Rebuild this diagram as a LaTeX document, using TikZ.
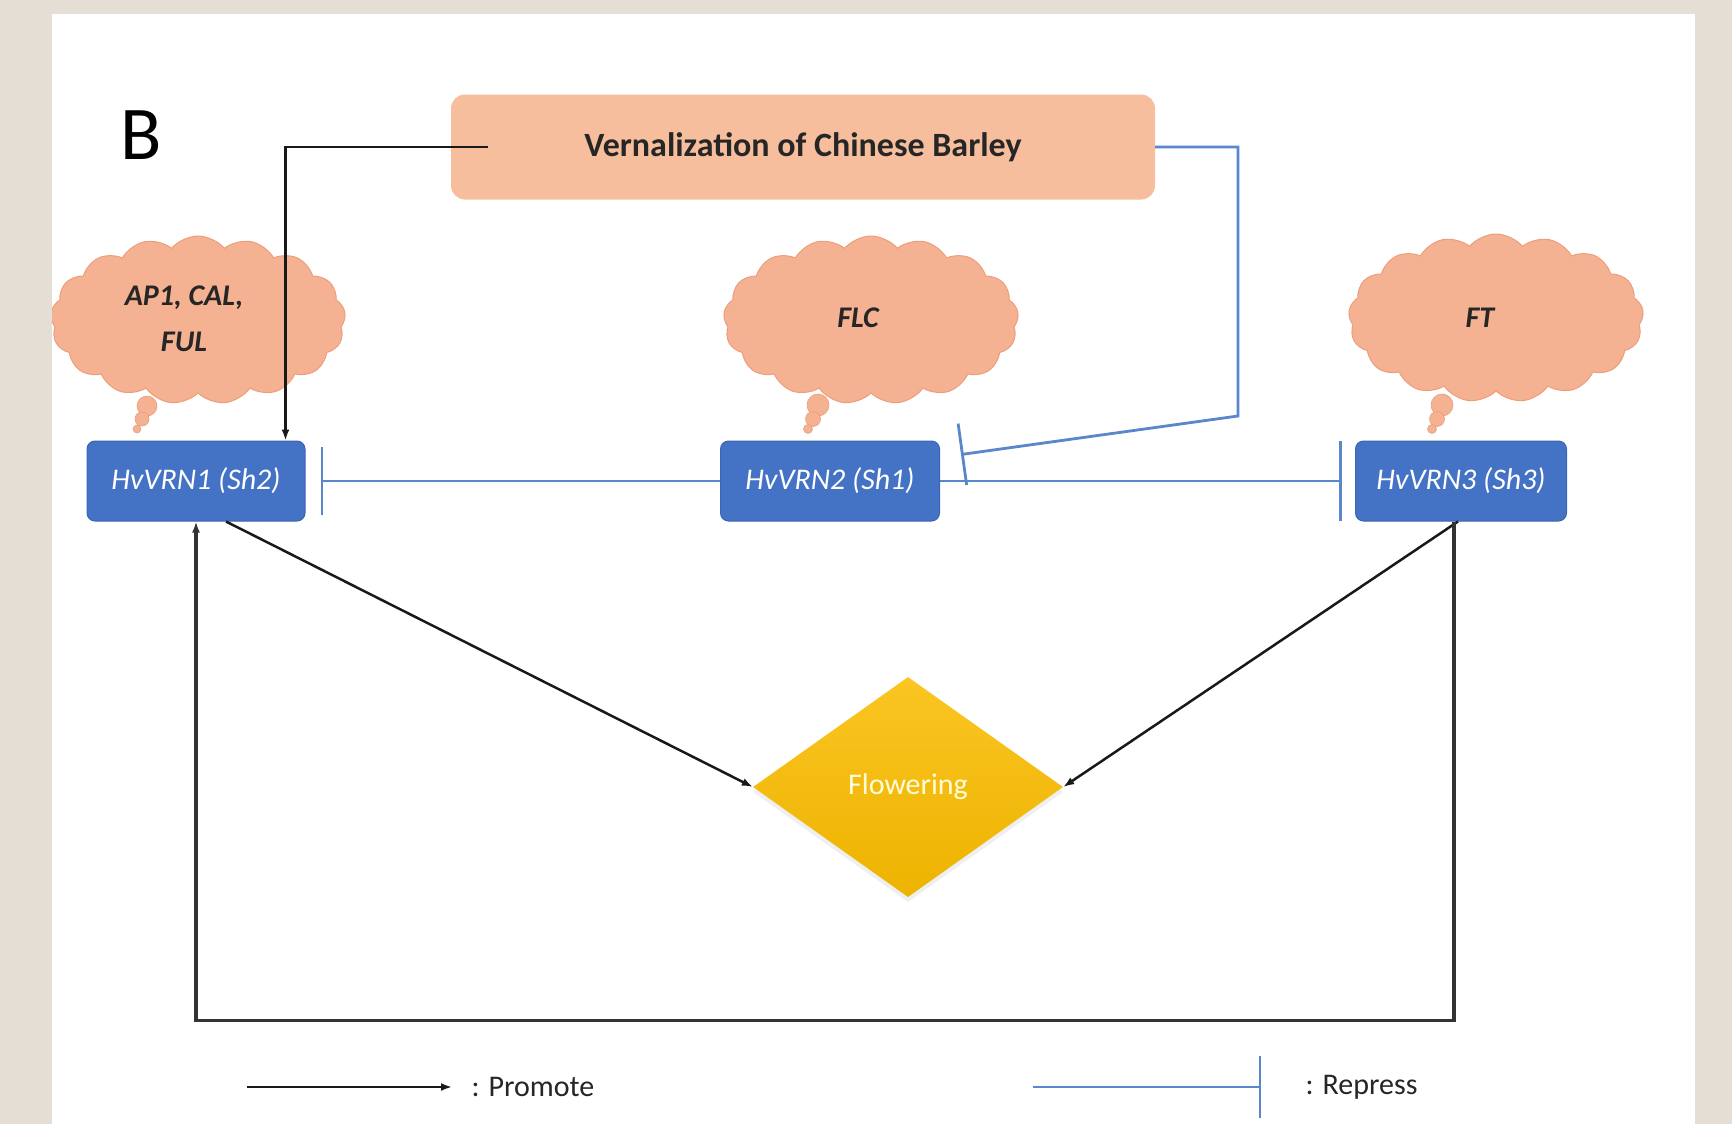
\documentclass[tikz,border=0pt]{standalone}
\usepackage{fontspec}
\setmainfont{Carlito}
\usetikzlibrary{arrows.meta,shapes.symbols,shapes.geometric,calc,shadows}

\definecolor{paper}{HTML}{E4DED4}
\definecolor{peach}{HTML}{F6BE9C}
\definecolor{cloudfill}{HTML}{F5B292}
\definecolor{cloudline}{HTML}{EC9E7C}
\definecolor{genefill}{HTML}{4472C4}
\definecolor{geneline}{HTML}{3B66B4}
\definecolor{replink}{HTML}{5A86CC}
\definecolor{goldtop}{HTML}{FBC523}
\definecolor{goldlow}{HTML}{EDB300}

\begin{document}
\begin{tikzpicture}[x=1pt,y=-1pt,
  gene/.style={draw=geneline, line width=1pt, fill=genefill, rounded corners=8pt,
    minimum height=80pt, inner sep=0pt, text=white,
    font=\fontsize{30}{36}\selectfont\itshape},
  puff/.style={cloud, cloud puffs=17, cloud puff arc=100, aspect=1.75,
    draw=cloudline, fill=cloudfill, line width=1pt,
    minimum width=295pt, minimum height=168pt, inner sep=0pt},
  drip/.style={circle, fill=cloudfill, draw=cloudline, line width=0.6pt, inner sep=0pt},
  cloudtext/.style={font=\fontsize{30}{46}\selectfont\bfseries\itshape,
    text=black!85, align=center},
  legendtext/.style={font=\fontsize{30}{36}\selectfont, text=black!85, anchor=west},
  promote/.style={draw=black!90, line width=2.5pt, -{Latex[length=11pt,width=8pt]}},
  repress/.style={draw=replink, line width=2.8pt, -{Bar[width=#1]}},
  repress/.default=70pt
]
\useasboundingbox (0,0) rectangle (1732,1124);
\fill[paper] (0,0) rectangle (1732,1124);
\fill[white] (52,14) rectangle (1695,1124);

% panel letter
\node[font=\fontsize{76}{80}\selectfont, text=black] (panel) at (141,135) {B};

% vernalization box
\node[fill=peach, rounded corners=14pt, minimum width=704pt, minimum height=105pt,
      font=\fontsize{34}{40}\selectfont\bfseries, text=black!85] (vern) at (803,147)
      {Vernalization of Chinese Barley};

% thought clouds
\begin{scope}
\clip (52,14) rectangle (1695,1124);
\node[puff] (c1) at (198,320) {};
\end{scope}
\node[puff] (c2) at (871,320) {};
\node[puff] (c3) at (1496,318) {};
\node[drip, minimum size=20pt] (d1a) at (147,406) {};
\node[drip, minimum size=14pt] (d1b) at (142,419) {};
\node[drip, minimum size=8pt]  (d1c) at (137,429) {};
\node[drip, minimum size=22pt] (d2a) at (818,405) {};
\node[drip, minimum size=15pt] (d2b) at (813,419) {};
\node[drip, minimum size=9pt]  (d2c) at (808,429) {};
\node[drip, minimum size=22pt] (d3a) at (1442,405) {};
\node[drip, minimum size=15pt] (d3b) at (1437,419) {};
\node[drip, minimum size=9pt]  (d3c) at (1432,429) {};
\node[cloudtext] (t1) at (184,319) {AP1, CAL,\\FUL};
\node[cloudtext] (t2) at (858,318) {FLC};
\node[cloudtext] (t3) at (1480,318) {FT};

% genes
\node[gene, minimum width=218pt] (g1) at (196,481) {HvVRN1 (Sh2)};
\node[gene, minimum width=219pt] (g2) at (830,481) {HvVRN2 (Sh1)};
\node[gene, minimum width=211pt] (g3) at (1461,481) {HvVRN3 (Sh3)};

% outcome
\node[diamond, aspect=1.41, minimum width=310pt, minimum height=220pt, inner sep=0pt,
      top color=goldtop, bottom color=goldlow,
      drop shadow={opacity=0.12, shadow xshift=0pt, shadow yshift=-5pt},
      font=\fontsize{30}{36}\selectfont, text=white!85!yellow] (dia) at (908,787) {Flowering};

% regulation
\draw[promote] ($(vern.west)+(37,0)$) -| ($(g1.north east)+(-20,0)$);
\coordinate (k1) at (1238,416);
\coordinate (k2) at ($(g2.north east)+(21,14)$);
\draw[repress=62pt] (vern.east) -| (k1) -- (k2);
\draw[repress=68pt] (g2.west) -- ($(g1.east)+(15,0)$);
\draw[repress=80pt] (g2.east) -- ($(g3.west)+(-13,0)$);
\draw[promote] ($(g1.south)+(30,0)$) -- (dia.west);
\draw[promote] ($(g3.south)+(-3,0)$) -- (dia.east);
\draw[promote, line width=3.2pt, draw=black!80] ($(g3.south)+(-7,0)$) -- ++(0,499) -| (g1.south);

% legend
\coordinate (pa) at (247,1087);
\coordinate (pb) at (452,1087);
\draw[promote] (pa) -- (pb);
\node[legendtext] (ptext) at (468,1087) {: Promote};
\coordinate (ra) at (1033,1087);
\coordinate (rb) at (1261,1087);
\draw[repress=62pt, line width=2pt] (ra) -- (rb);
\node[legendtext] (rtext) at (1302,1087) {: Repress};
\end{tikzpicture}
\end{document}
